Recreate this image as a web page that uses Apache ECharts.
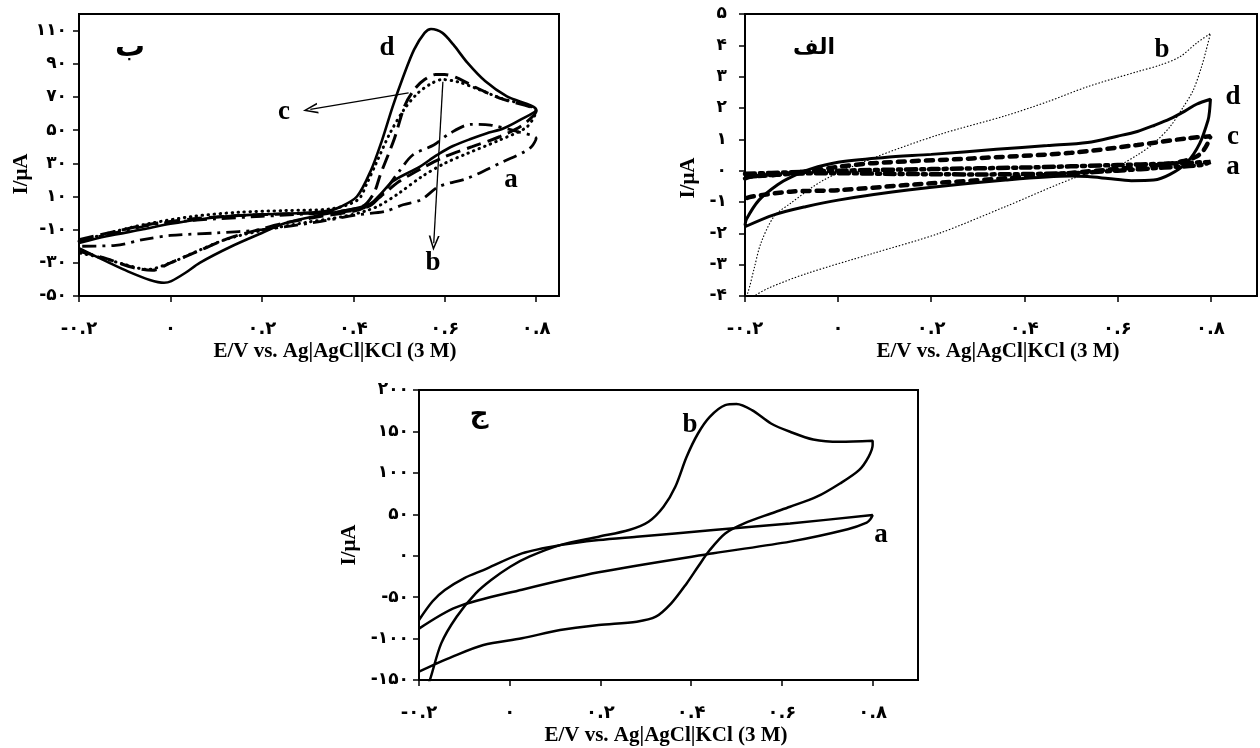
<!DOCTYPE html>
<html>
<head>
    <meta charset="utf-8">
    <title>CV</title>
    <script src="https://cdn.jsdelivr.net/npm/echarts@6/dist/echarts.min.js"></script>
    <style>
        html, body { margin: 0; padding: 0; background: #fff; }
        #chart { width: 1260px; height: 748px; }
    </style>
</head>
<body>
<div id="chart"></div>
<script>
    // panel ب (top left) : [E, I] pairs, forward scan then reverse scan
    var B_d = [[-0.2,-18],[-0.14,-14],[-0.06,-9.8],[0,-6.5],[0.1,-2.5],[0.2,-0.8],[0.29,0],[0.345,1.3],[0.37,3.5],[0.408,10],[0.439,26],[0.463,44],[0.486,64],[0.509,82],[0.533,98.5],[0.556,108.6],[0.57,111],[0.595,108.6],[0.619,101.5],[0.65,90.5],[0.689,79.4],[0.736,70.3],[0.8,62.3],
        [0.764,56],[0.728,51],[0.691,48],[0.655,44.5],[0.618,40.4],[0.589,36],[0.567,32],[0.546,28],[0.525,25],[0.486,19],[0.455,10],[0.439,6],[0.408,3],[0.33,-1.1],[0.252,-6],[0.2,-12],[0.134,-20],[0.064,-30],[0.033,-36],[0.002,-41],[-0.014,-42],[-0.045,-40.3],[-0.092,-35.3],[-0.139,-29.3],[-0.2,-21.2]];
    var B_c = [[-0.2,-16],[-0.12,-11],[-0.05,-7],[0.05,-3.5],[0.15,-1.5],[0.25,-0.5],[0.35,0.5],[0.42,4],[0.445,12],[0.459,23],[0.49,45],[0.513,65],[0.535,75],[0.556,80.5],[0.58,83.5],[0.6,83.5],[0.627,81.5],[0.666,76],[0.72,69.3],[0.8,61.3],
        [0.77,53],[0.72,46],[0.66,40],[0.6,34],[0.55,27],[0.5,19],[0.46,10],[0.43,4],[0.4,1],[0.33,-2],[0.25,-6],[0.2,-9.5],[0.13,-15],[0.06,-23],[0,-30],[-0.04,-34.5],[-0.08,-33],[-0.14,-27.5],[-0.2,-23]];
    var B_b = [[-0.2,-17],[-0.12,-11],[-0.05,-6.5],[0.05,-2],[0.15,0.5],[0.25,1.5],[0.35,2.5],[0.41,8],[0.43,18],[0.45,30],[0.48,48],[0.51,62],[0.54,72],[0.57,78],[0.595,80.5],[0.63,79],[0.67,75],[0.72,69.5],[0.8,61.5],
        [0.78,52],[0.72,44],[0.65,36],[0.6,30],[0.55,22],[0.5,12],[0.46,5],[0.43,1.5],[0.38,-2],[0.3,-5.5],[0.2,-10.5],[0.12,-16],[0.05,-24],[0,-30],[-0.05,-34],[-0.1,-31],[-0.15,-27],[-0.2,-24]];
    var B_a = [[-0.2,-17],[-0.13,-12.5],[-0.05,-7.5],[0,-5.5],[0.1,-3.5],[0.2,-2],[0.3,-0.5],[0.4,1.5],[0.44,5],[0.47,14],[0.5,25],[0.53,35],[0.576,41],[0.611,48],[0.658,53.5],[0.7,53],[0.76,49],[0.8,45],
        [0.79,40],[0.775,37],[0.728,31],[0.65,21],[0.5875,16],[0.548,8],[0.509,5],[0.47,1],[0.408,-1.1],[0.33,-5],[0.2,-10],[0.1,-12],[0,-13.5],[-0.06,-16],[-0.12,-19.5],[-0.2,-20]];

    // panel الف (top right)
    var A_b = [[-0.2,-4],[-0.194,-3.9],[-0.18,-3.1],[-0.166,-2.32],[-0.138,-1.47],[-0.102,-1.04],[-0.031,-0.3],[0.075,0.4],[0.217,1.15],[0.359,1.75],[0.45,2.2],[0.536,2.68],[0.643,3.16],[0.692,3.37],[0.735,3.64],[0.77,4.07],[0.8,4.38],
        [0.79,3.8],[0.781,3.32],[0.763,2.57],[0.742,2.04],[0.713,1.4],[0.678,0.87],[0.643,0.5],[0.6,0.15],[0.515,-0.19],[0.359,-1.15],[0.217,-2.0],[0.075,-2.64],[-0.067,-3.28],[-0.15,-3.75],[-0.18,-4.0]];
    var A_d = [[-0.2,-1.75],[-0.197,-1.55],[-0.17,-0.94],[-0.13,-0.45],[-0.1,-0.2],[-0.06,0.05],[0,0.27],[0.1,0.42],[0.2,0.52],[0.34,0.68],[0.45,0.8],[0.536,0.9],[0.6,1.1],[0.643,1.25],[0.68,1.45],[0.713,1.65],[0.745,1.9],[0.77,2.12],[0.8,2.28],
        [0.798,1.9],[0.795,1.62],[0.777,0.87],[0.75,0.27],[0.713,-0.12],[0.678,-0.3],[0.63,-0.32],[0.58,-0.25],[0.536,-0.19],[0.5,-0.17],[0.36,-0.3],[0.15,-0.62],[0,-0.94],[-0.07,-1.15],[-0.138,-1.41],[-0.2,-1.79]];
    var A_c = [[-0.2,-0.25],[-0.187,-0.19],[-0.138,-0.14],[-0.067,-0.02],[0.004,0.13],[0.075,0.24],[0.288,0.39],[0.5,0.57],[0.643,0.82],[0.749,1.03],[0.8,1.1],
        [0.795,0.9],[0.785,0.65],[0.77,0.45],[0.74,0.3],[0.7,0.2],[0.572,0.02],[0.359,-0.24],[0.146,-0.46],[0.004,-0.62],[-0.102,-0.67],[-0.187,-0.83],[-0.2,-0.9]];
    var A_a = [[-0.2,-0.1],[-0.1,-0.05],[0,0],[0.2,0.05],[0.4,0.1],[0.6,0.18],[0.7,0.22],[0.8,0.28],
        [0.78,0.18],[0.7,0.1],[0.6,0],[0.5,-0.08],[0.3,-0.12],[0.1,-0.1],[0,-0.08],[-0.1,-0.1],[-0.2,-0.2]];

    // panel ج (bottom)
    var C_a = [[-0.2,-77.6],[-0.17,-55],[-0.143,-41.4],[-0.1,-27],[-0.058,-17.3],[0.027,2.8],[0.111,12.8],[0.196,18.9],[0.28,22.9],[0.449,30.9],[0.618,39],[0.8,49],
        [0.795,44],[0.787,40],[0.745,32],[0.618,17],[0.449,3],[0.196,-20],[0.027,-41],[-0.117,-62],[-0.2,-88]];
    var C_b = [[-0.2,-190],[-0.19,-170],[-0.176,-150],[-0.151,-105.8],[-0.117,-73.6],[-0.075,-45.5],[-0.041,-29.4],[0.001,-13.3],[0.043,-1.2],[0.111,12.8],[0.196,22.9],[0.263,31],[0.306,41],[0.339,59.1],[0.365,83.2],[0.39,119.4],[0.415,147.5],[0.441,167.6],[0.475,181.7],[0.5,183],[0.534,175.7],[0.576,159.6],[0.618,149.6],[0.669,140.3],[0.728,137.5],[0.8,138.7],
        [0.8,133.5],[0.791,119.4],[0.77,103.3],[0.728,87.2],[0.677,71.2],[0.618,59.1],[0.576,51],[0.517,39],[0.475,26.9],[0.441,6.8],[0.415,-13.3],[0.39,-33.4],[0.356,-57.5],[0.322,-73.6],[0.28,-79.6],[0.196,-83.7],[0.111,-89.7],[0.027,-99.7],[-0.058,-107.8],[-0.126,-121.9],[-0.2,-140]];

    // tick values
    var xTicks = [-0.2, 0, 0.2, 0.4, 0.6, 0.8];
    var yTicksB = [-50, -30, -10, 10, 30, 50, 70, 90, 110];
    var yTicksA = [-4, -3, -2, -1, 0, 1, 2, 3, 4, 5];
    var yTicksC = [-150, -100, -50, 0, 50, 100, 150, 200];

    // arrows in panel ب, [from, to] in data units
    var arrowsB = [[[0.521, 72.5], [0.306, 62.5]], [[0.596, 79.2], [0.576, -18.2]]];

    var faDigits = '۰۱۲۳۴۵۶۷۸۹';
    function fa(v) {
        var s = String(Math.round(v * 10) / 10);
        return s.replace(/[0-9]/g, function (d) { return faDigits[d]; });
    }

    var SERIF = "'Liberation Serif', 'Times New Roman', serif";
    var FA_FONT = "'DejaVu Sans', sans-serif";
    var ARROW = 'path://M5,0 L10,10 L8.4,10 L5,2.8 L1.6,10 L0,10 Z';

    function xAxis(grid, max) {
        return {
            type: 'value', gridIndex: grid, min: -0.2, max: max,
            axisLine: {show: true, onZero: false, lineStyle: {color: '#000', width: 2}},
            axisTick: {show: true, length: 6, customValues: xTicks, lineStyle: {color: '#000', width: 1.5}},
            axisLabel: {customValues: xTicks, formatter: fa, color: '#000', fontSize: 18, fontWeight: 'bold', fontFamily: FA_FONT, margin: 24},
            splitLine: {show: false}
        };
    }

    function yAxis(grid, min, max, ticks, margin) {
        return {
            type: 'value', gridIndex: grid, min: min, max: max,
            axisLine: {show: true, onZero: false, lineStyle: {color: '#000', width: 2}},
            axisTick: {show: true, length: 6, customValues: ticks, lineStyle: {color: '#000', width: 1.5}},
            axisLabel: {customValues: ticks, formatter: fa, color: '#000', fontSize: 17, fontWeight: 'bold', fontFamily: FA_FONT, margin: margin},
            splitLine: {show: false}
        };
    }

    function curve(grid, data, width, dash, cap) {
        return {
            type: 'line', xAxisIndex: grid, yAxisIndex: grid, data: data,
            showSymbol: false, symbol: 'none', smooth: 0.3, silent: true,
            lineStyle: {color: '#000', width: width, type: dash, cap: cap || 'butt'}
        };
    }

    function txt(x, y, s, size, font) {
        return {
            type: 'text', x: x, y: y, silent: true,
            style: {text: s, fill: '#000', font: 'bold ' + size + 'px ' + (font || SERIF), align: 'center', verticalAlign: 'middle'}
        };
    }

    function vtxt(x, y, s) {
        var t = txt(x, y, s, 21);
        t.rotation = Math.PI / 2;
        return t;
    }

    var markB = {
        silent: true, symbol: ['none', ARROW], symbolSize: [11, 15],
        lineStyle: {color: '#000', width: 1.3, type: 'solid'},
        label: {show: false},
        data: arrowsB.map(function (a) {
            return [{coord: a[0]}, {coord: a[1]}];
        })
    };

    var sB = [
        curve(0, B_a, 2.8, [14, 6, 3, 6]),
        curve(0, B_b, 3, [0.5, 5.5], 'round'),
        curve(0, B_c, 3, [15, 7]),
        curve(0, B_d, 2.6, 'solid')
    ];
    sB[3].markLine = markB;

    var myChart = echarts.init(document.getElementById('chart'), null, {renderer: 'canvas'});
    myChart.setOption({
        animation: false,
        backgroundColor: '#fff',
        grid: [
            {left: 79, top: 14, width: 480, height: 282, show: true, borderColor: '#000', borderWidth: 2},
            {left: 745, top: 14, width: 512, height: 282, show: true, borderColor: '#000', borderWidth: 2},
            {left: 419, top: 390, width: 499, height: 290, show: true, borderColor: '#000', borderWidth: 2}
        ],
        xAxis: [xAxis(0, 0.85), xAxis(1, 0.9), xAxis(2, 0.9)],
        yAxis: [yAxis(0, -50, 120, yTicksB, 12), yAxis(1, -4, 5, yTicksA, 18), yAxis(2, -150, 200, yTicksC, 10)],
        series: sB.concat([
            curve(1, A_b, 1.1, [1.5, 1.8]),
            curve(1, A_a, 4.5, [10, 5, 3, 5], 'round'),
            curve(1, A_c, 4.5, [7, 7], 'round'),
            curve(1, A_d, 3, 'solid'),
            curve(2, C_a, 2.5, 'solid'),
            curve(2, C_b, 2.5, 'solid')
        ]),
        graphic: [
            // panel ب
            txt(130, 48, 'ب', 30, FA_FONT),
            txt(387, 48, 'd', 27), txt(284, 112, 'c', 27), txt(511, 180, 'a', 27), txt(433, 263, 'b', 27),
            vtxt(22, 174, 'I/μA'),
            txt(335, 352, 'E/V vs. Ag|AgCl|KCl (3 M)', 21),
            // panel الف
            txt(814, 48, 'الف', 22, FA_FONT),
            txt(1162, 50, 'b', 27), txt(1233, 97, 'd', 27), txt(1233, 137, 'c', 27), txt(1233, 167, 'a', 27),
            vtxt(689, 178, 'I/μA'),
            txt(998, 352, 'E/V vs. Ag|AgCl|KCl (3 M)', 21),
            // panel ج
            txt(479, 415, 'ج', 26, FA_FONT),
            txt(690, 425, 'b', 27), txt(881, 535, 'a', 27),
            vtxt(350, 545, 'I/μA'),
            txt(666, 736, 'E/V vs. Ag|AgCl|KCl (3 M)', 21)
        ]
    });
</script>
</body>
</html>
